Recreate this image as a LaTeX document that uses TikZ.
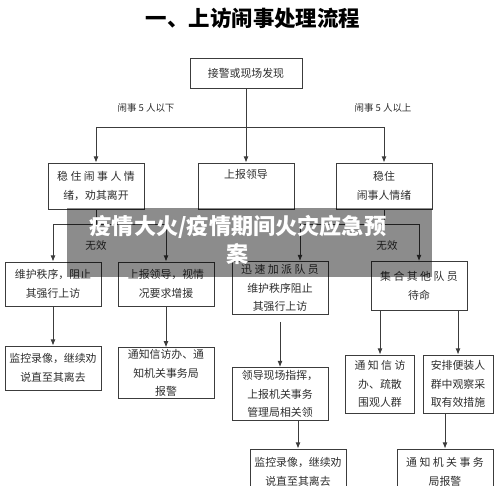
\documentclass[tikz,border=0pt]{standalone}
\usepackage{fontspec}
\setmainfont{Noto Sans CJK SC}
\usetikzlibrary{positioning,arrows.meta,calc}
\definecolor{cline}{HTML}{3c3c3c}
\definecolor{ctext}{HTML}{2e2e2e}

\begin{document}
\begin{tikzpicture}[x=0.02cm, y=-0.02cm, every node/.style={font=\fontsize{6.2}{10.5}\selectfont, align=center, text=ctext}, box/.style={draw=cline, line width=.5pt, minimum width=1.92cm, inner sep=1pt}, link/.style={draw=cline, line width=.5pt}, arr/.style={link, -{Latex[length=3.5pt,width=2.8pt]}}, note/.style={font=\fontsize{5.4}{7}\selectfont}]
    \useasboundingbox (0,0) rectangle (500,486);
    \clip (0,0) rectangle (500,486);
    \node[font=\bfseries\fontsize{12.2}{14}\selectfont, text=black] (title) at (253,18) {一、上访闹事处理流程};
    \node[box, minimum width=2.24cm, minimum height=.6cm] (alarm) at (246,73) {接警或现场发现};
    % second row
    \node[box, minimum height=.92cm] (calmL) at (96,186) {稳 住 闹 事 人 情\\绪，劝其离开};
    \node[box, minimum height=.92cm] (report) at (246,186) {上报领导\\ \strut};
    \node[box, minimum height=.92cm] (calmR) at (384,186) {稳住\\闹事人情绪};
    % third row
    \node[box, minimum height=.88cm] (guard) at (53,284) {维护秩序，阻止\\其强行上访};
    \node[box, minimum height=.88cm] (backup) at (166,284) {上报领导，视情\\况要求增援};
    \node[box, minimum height=1.06cm] (dispatch) at (280,288) {迅 速 加 派 队 员\\维护秩序阻止\\其强行上访};
    \node[box, minimum height=.98cm] (standby) at (419,286) {集 合 其 他 队 员\\待命};
    % lower rows
    \node[box, minimum height=.88cm] (watchL) at (53,368) {监控录像，继续劝\\说直至其离去};
    \node[box, minimum height=.96cm] (notifyB) at (166,373) {通知信访办、通\\知机关事务局\\报警};
    \node[box, minimum height=1.06cm] (command) at (280,394) {领导现场指挥，\\上报机关事务\\管理局相关领};
    \node[box, minimum width=1.38cm, minimum height=1.16cm] (disperse) at (380,384) {通 知 信 访\\办、疏散\\围观人群};
    \node[box, minimum width=1.4cm, minimum height=1.16cm] (plain) at (458,384) {安排便装人\\群中观察采\\取有效措施};
    \node[box, minimum height=.92cm] (watchC) at (298,472) {监控录像，继续劝\\说直至其离去};
    \node[box, minimum height=.92cm] (notifyD) at (445,472) {通 知 机 关 事 务\\局报警};

    \coordinate (split) at (246,127);
    \coordinate (failL) at ($(calmL.south)+(0,15)$);
    \coordinate (failR) at ($(calmR.south)+(0,15)$);
    \draw[link] (alarm) -- (split);
    \draw[arr] (split) -- (report);
    \draw[arr] (split) -| (calmL);
    \draw[arr] (split) -| (calmR);
    \node[note] (fewer) at (146,108) {闹事 5 人以下};
    \node[note] (more) at (383,108) {闹事 5 人以上};
    \draw[link] (calmL) -- (failL);
    \draw[arr] (failL) -| (guard);
    \draw[arr] (failL) -| (backup);
    \draw[link] (calmR) -- (failR);
    \draw[arr] (failR) -| ([xshift=.4cm]dispatch.north);
    \draw[arr] (failR) -| (standby);
    \node[note, font=\fontsize{6}{7}\selectfont] (uselessL) at (96,246) {无效};
    \node[note, font=\fontsize{6}{7}\selectfont] (uselessR) at (387,246) {无效};
    \draw[arr] (guard) -- (watchL);
    \draw[arr] (backup) -- (notifyB);
    \draw[arr, shorten <=.14cm] (dispatch) -- (command);
    \draw[arr] (command.south -| watchC.north) -- (watchC);
    \draw[arr] (standby.south -| disperse.north) -- (disperse);
    \draw[arr] (standby.south -| plain.north) -- (plain);
    \draw[arr] (plain.south -| notifyD.north) -- (notifyD);

    % banner laid over the chart
    \fill[black, fill opacity=.45] (67,208) rectangle (432,277);
    \node[text=white, font=\bfseries\fontsize{12.6}{16.2}\selectfont] (banner) at (238,240) {疫情大火/疫情期间火灾应急预\\案};
  \end{tikzpicture}
\end{document}
